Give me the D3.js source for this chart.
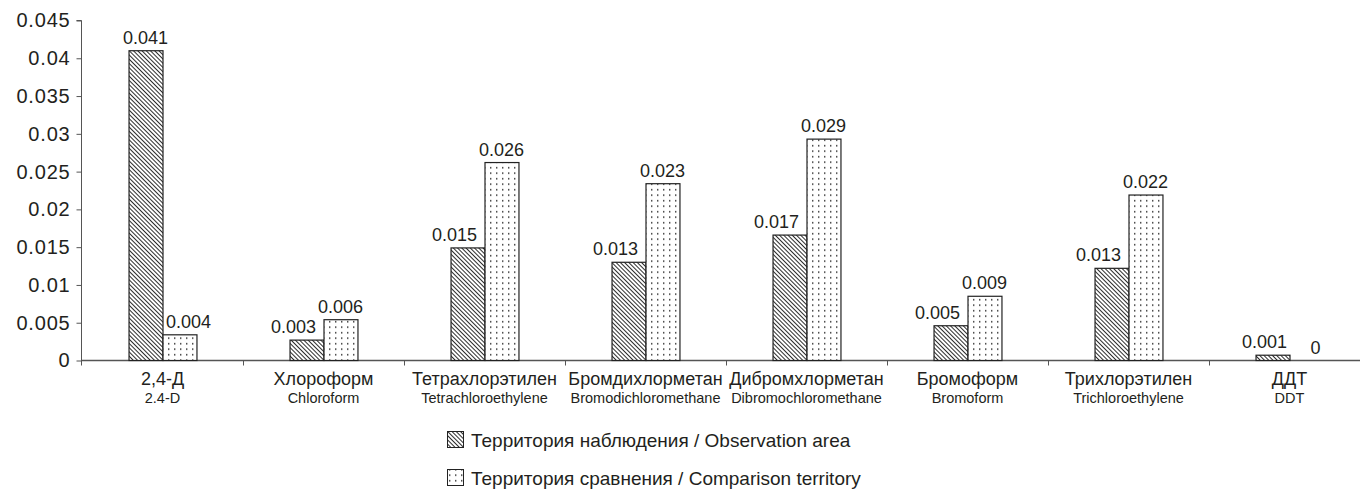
<!DOCTYPE html>
<html>
<head>
<meta charset="utf-8">
<script src="https://cdn.jsdelivr.net/npm/d3@7"></script>
<style>
  html, body { margin: 0; padding: 0; background: #fff; }
  svg { display: block; font-family: "Liberation Sans", Arial, Helvetica, sans-serif; }
</style>
</head>
<body>
<svg id="chart" width="1360" height="490"></svg>
<script>
// ---- data ----
const categoriesRu = ["2,4-Д", "Хлороформ", "Тетрахлорэтилен", "Бромдихлорметан", "Дибромхлорметан", "Бромоформ", "Трихлорэтилен", "ДДТ"];
const categoriesEn = ["2.4-D", "Chloroform", "Tetrachloroethylene", "Bromodichloromethane", "Dibromochloromethane", "Bromoform", "Trichloroethylene", "DDT"];
const seriesNames = ["Территория наблюдения", "Территория сравнения"];
const seriesNamesEn = ["Observation area", "Comparison territory"];
const observationValues = [0.041, 0.0027, 0.0149, 0.0130, 0.0166, 0.0046, 0.0122, 0.0007];
const comparisonValues  = [0.0034, 0.0054, 0.0262, 0.0234, 0.0293, 0.0085, 0.0219, 0.0];
const observationLabels = ["0.041", "0.003", "0.015", "0.013", "0.017", "0.005", "0.013", "0.001"];
const comparisonLabels  = ["0.004", "0.006", "0.026", "0.023", "0.029", "0.009", "0.022", "0"];
const yTickValues = [0, 0.005, 0.01, 0.015, 0.02, 0.025, 0.03, 0.035, 0.04, 0.045];
const yTickLabels = ["0", "0.005", "0.01", "0.015", "0.02", "0.025", "0.03", "0.035", "0.04", "0.045"];

const TEXT = "#231f20";
const AXIS = "#555555";
const svg = d3.select("#chart");

// patterns
const defs = svg.append("defs");
const hatch = defs.append("pattern").attr("id", "hatch")
  .attr("patternUnits", "userSpaceOnUse").attr("width", 3).attr("height", 3)
  .attr("patternTransform", "rotate(-45)");
hatch.append("rect").attr("width", 3).attr("height", 3).attr("fill", "#fff");
hatch.append("line").attr("x1", 0.5).attr("y1", 0).attr("x2", 0.5).attr("y2", 3)
  .attr("stroke", "#222").attr("stroke-width", 0.95);
const dots = defs.append("pattern").attr("id", "dots")
  .attr("patternUnits", "userSpaceOnUse").attr("width", 6).attr("height", 5.5);
dots.append("rect").attr("width", 6).attr("height", 5.5).attr("fill", "#fff");
dots.append("rect").attr("x", 2).attr("y", 2).attr("width", 1.4).attr("height", 1.4).attr("fill", "#222");
const fills = ["url(#hatch)", "url(#dots)"];

// scales
const y = d3.scaleLinear().domain([0, 0.045]).range([360.5, 20.5]);
const x0 = d3.scaleBand().domain(categoriesRu).range([82, 1370]).paddingInner(0).paddingOuter(0);
const x1 = d3.scaleBand().domain([0, 1]).range([0, x0.bandwidth()]).paddingInner(0).paddingOuter(1.37);

// y axis
const yAxis = d3.axisLeft(y).tickValues(yTickValues).tickSize(5).tickPadding(6)
  .tickFormat((d, i) => yTickLabels[i]);
const gy = svg.append("g").attr("transform", "translate(81.5,0)").call(yAxis);
gy.select(".domain").attr("stroke", AXIS).attr("d", "M-5," + y(0.045) + "H0V" + (y(0) + 5));
gy.selectAll(".tick line").attr("stroke", AXIS);
gy.selectAll(".tick text").attr("fill", TEXT).attr("font-size", 20).attr("letter-spacing", "0.8px")
  .attr("font-family", "'Liberation Sans', Arial, sans-serif");

// x axis line and boundary ticks
const gx = svg.append("g");
gx.append("line").attr("x1", 81.5).attr("x2", 1360).attr("y1", y(0)).attr("y2", y(0))
  .attr("stroke", AXIS).attr("stroke-width", 1.3);
gx.selectAll("line.btick").data(categoriesRu.slice(1)).join("line").attr("class", "btick")
  .attr("x1", d => Math.round(x0(d)) + 0.5).attr("x2", d => Math.round(x0(d)) + 0.5)
  .attr("y1", y(0)).attr("y2", y(0) + 5).attr("stroke", AXIS);

// category labels
const catG = svg.append("g").selectAll("g").data(categoriesRu).join("g")
  .attr("transform", d => `translate(${x0(d) + x0.bandwidth() / 2},0)`);
catG.append("text").attr("y", 385).attr("text-anchor", "middle").attr("font-size", 18)
  .attr("fill", TEXT).text(d => d);
catG.append("text").attr("y", 403).attr("text-anchor", "middle").attr("font-size", 14.5)
  .attr("fill", TEXT).text((d, i) => categoriesEn[i]);

// bars
const rows = categoriesRu.map((c, i) => ({
  cat: c,
  vals: [observationValues[i], comparisonValues[i]],
  labs: [observationLabels[i], comparisonLabels[i]]
}));
const groups = svg.append("g").selectAll("g").data(rows).join("g")
  .attr("transform", d => `translate(${x0(d.cat)},0)`);
groups.selectAll("rect").data(d => d.vals.map((v, s) => ({ v, s })))
  .join("rect")
  .attr("x", d => x1(d.s) + 0.5)
  .attr("width", x1.bandwidth())
  .attr("y", d => y(d.v))
  .attr("height", d => y(0) - y(d.v))
  .attr("fill", d => fills[d.s])
  .attr("stroke", "#222").attr("stroke-width", 1.2);

// value labels
groups.selectAll("text").data(d => d.vals.map((v, s) => ({
  v, s, lab: d.labs[s], other: d.vals[1 - s]
}))).join("text")
  .attr("x", d => {
    let dx = 0;
    if (d.s === 0 && d.other > d.v) dx = -13;
    if (d.s === 0 && d.other === 0) dx = -8;
    if (d.s === 1 && d.other > d.v) dx = 9;
    return x1(d.s) + x1.bandwidth() / 2 + dx;
  })
  .attr("y", d => y(d.v) - 7)
  .attr("text-anchor", "middle").attr("font-size", 18).attr("fill", TEXT)
  .text(d => d.lab);

// legend
const legend = svg.append("g").selectAll("g").data(seriesNames).join("g")
  .attr("transform", (d, i) => `translate(447,${440 + i * 38})`);
legend.append("rect").attr("x", 0.5).attr("y", -8.5).attr("width", 16).attr("height", 16)
  .attr("fill", (d, i) => fills[i]).attr("stroke", "#222").attr("stroke-width", 1);
const lt = legend.append("text").attr("x", 24).attr("y", 6.5).attr("font-size", 19).attr("fill", TEXT);
lt.append("tspan").text(d => d + " / ");
lt.append("tspan").text((d, i) => seriesNamesEn[i]);
</script>
</body>
</html>
